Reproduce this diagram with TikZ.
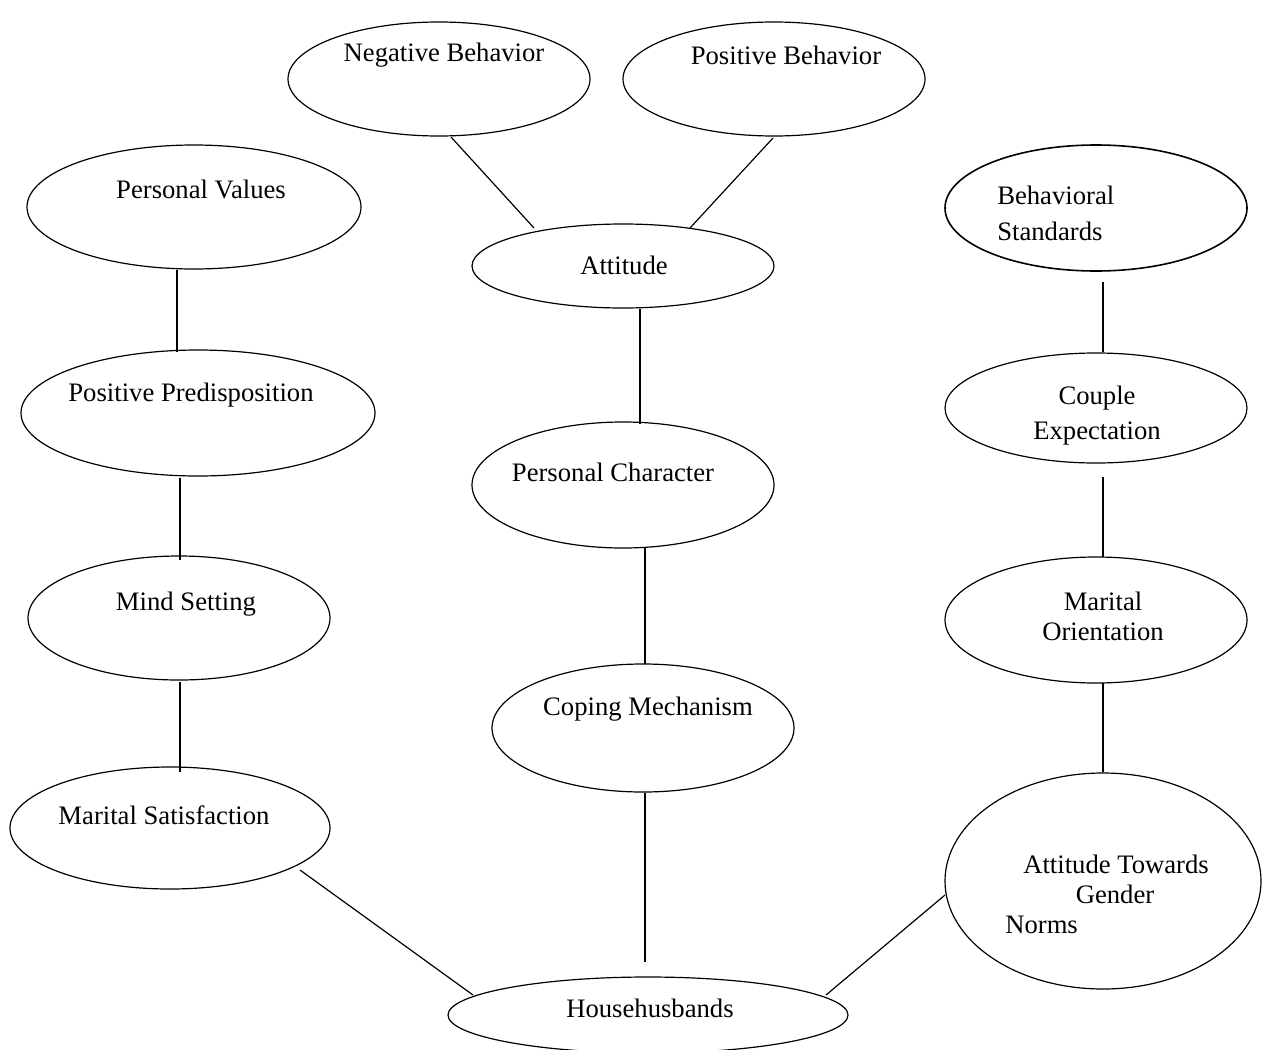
\documentclass[tikz,border=0pt]{standalone}
\usepackage{fontspec}
\setmainfont{Liberation Serif}
\usetikzlibrary{shapes.geometric}
\begin{document}
\begin{tikzpicture}[x=0.75pt,y=-0.75pt,
  ov/.style 2 args={draw, ellipse, line width=0.9pt, inner sep=0pt, minimum width=#1*1.5pt, minimum height=#2*1.5pt},
  lbl/.style={inner sep=0pt, font=\fontsize{20}{24}\selectfont},
  conn/.style={line width=0.9pt}]
\useasboundingbox (0,0) rectangle (1262,1049);
% ellipses
\node[ov={151}{57}] (neg) at (439,79) {};
\node[ov={151}{57}] (pos) at (774,79) {};
\node[ov={167}{62}] (pv) at (194,207) {};
\node[ov={151}{42}] (att) at (623,266) {};
\node[ov={151}{63}, line width=1.2pt] (bs) at (1096,208) {};
\node[ov={177}{63}] (pp) at (198,413) {};
\node[ov={151}{63}] (pc) at (623,485) {};
\node[ov={151}{55}] (ce) at (1096,408) {};
\node[ov={151}{62}] (ms) at (179,618) {};
\node[ov={151}{63}] (mo) at (1096,620) {};
\node[ov={151}{64}] (cm) at (643,728) {};
\node[ov={160}{61}] (msat) at (170,828) {};
\node[ov={158}{108}] (atg) at (1103,881) {};
\node[ov={200}{38}] (hh) at (648,1015) {};
% labels
\node[lbl] (tneg) at (444,55) {Negative Behavior};
\node[lbl] (tpos) at (786,55) {Positive Behavior};
\node[lbl] (tpv) at (201,189) {Personal Values};
\node[lbl] (tatt) at (624,265) {Attitude};
\node[lbl, anchor=west] (tbs1) at (997,195) {Behavioral};
\node[lbl, anchor=west] (tbs2) at (997,231) {Standards};
\node[lbl] (tpp) at (191,395) {Positive Predisposition};
\node[lbl] (tpc) at (613,472) {Personal Character};
\node[lbl] (tce1) at (1097,398) {Couple};
\node[lbl] (tce2) at (1097,434) {Expectation};
\node[lbl] (tms) at (186,604) {Mind Setting};
\node[lbl] (tmo1) at (1103,601) {Marital};
\node[lbl] (tmo2) at (1103,632) {Orientation};
\node[lbl] (tcm) at (648,709) {Coping Mechanism};
\node[lbl] (tmsat) at (164,815) {Marital Satisfaction};
\node[lbl] (tatg1) at (1116,864) {Attitude Towards};
\node[lbl] (tatg2) at (1115,894) {Gender};
\node[lbl, anchor=west] (tatg3) at (1005,925) {Norms};
\node[lbl] (thh) at (650,1008) {Househusbands};
% connector end points
\coordinate (a1) at (451,137); \coordinate (a2) at (534,228);
\coordinate (b1) at (773,138); \coordinate (b2) at (690,228);
\coordinate (c1) at (177,270); \coordinate (c2) at (177,352);
\coordinate (d1) at (180,478); \coordinate (d2) at (180,560);
\coordinate (e1) at (180,682); \coordinate (e2) at (180,772);
\coordinate (f1) at (640,309); \coordinate (f2) at (640,424);
\coordinate (g1) at (645,548); \coordinate (g2) at (645,664);
\coordinate (h1) at (645,793); \coordinate (h2) at (645,962);
\coordinate (i1) at (300,870); \coordinate (i2) at (473,995);
\coordinate (j1) at (945,895); \coordinate (j2) at (826,995);
\coordinate (k1) at (1103,282); \coordinate (k2) at (1103,352);
\coordinate (l1) at (1103,477); \coordinate (l2) at (1103,557);
\coordinate (m1) at (1103,683); \coordinate (m2) at (1103,772);
\draw[conn] (a1) -- (a2);
\draw[conn] (b1) -- (b2);
\draw[conn] (c1) -- (c2);
\draw[conn] (d1) -- (d2);
\draw[conn] (e1) -- (e2);
\draw[conn] (f1) -- (f2);
\draw[conn] (g1) -- (g2);
\draw[conn] (h1) -- (h2);
\draw[conn] (i1) -- (i2);
\draw[conn] (j1) -- (j2);
\draw[conn] (k1) -- (k2);
\draw[conn] (l1) -- (l2);
\draw[conn] (m1) -- (m2);
\end{tikzpicture}
\end{document}
